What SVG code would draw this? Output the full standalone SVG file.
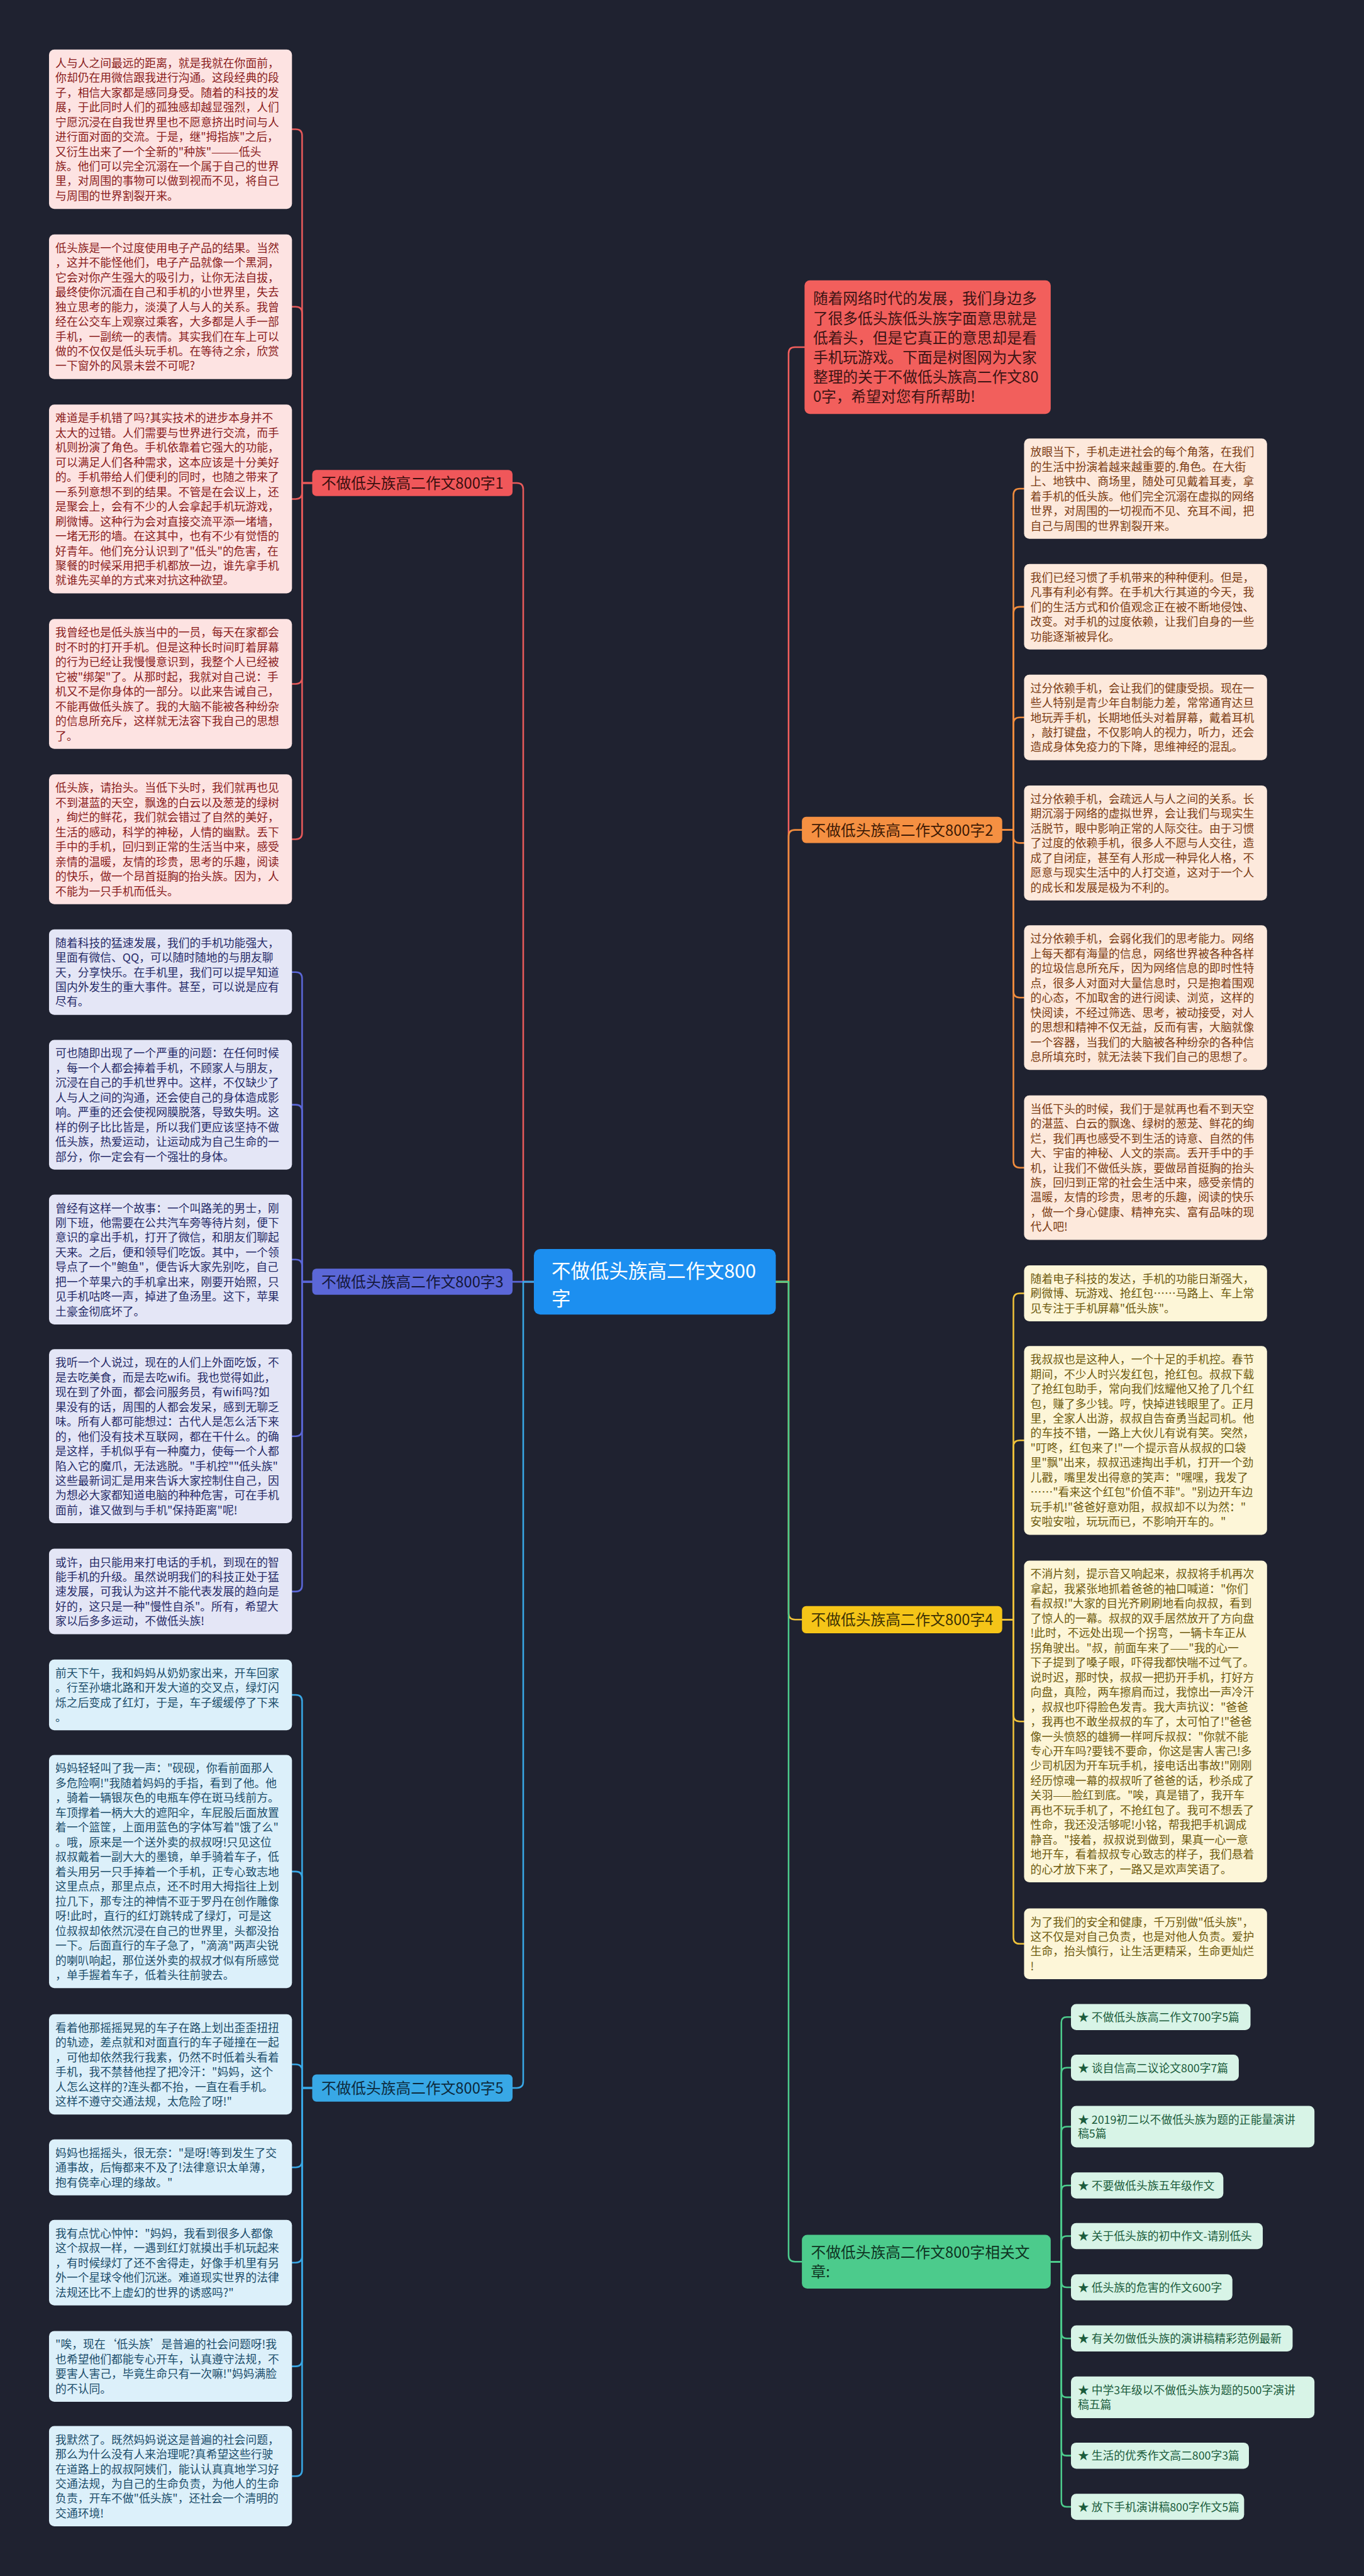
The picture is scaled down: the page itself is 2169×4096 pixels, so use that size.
<svg xmlns="http://www.w3.org/2000/svg" width="2169" height="4096" viewBox="0 0 2169 4096">
<defs>
<style>
text{font-family:"Noto Sans CJK SC","Noto Sans","DejaVu Sans",sans-serif;}
.b{font-size:21px}
.br{font-size:28px}
.c{fill:none;stroke-width:3;stroke-linecap:round;stroke-linejoin:round}
.red rect{fill:#fde3e2}.red text{fill:#8a1c1c}
.pur rect{fill:#e4e6f6}.pur text{fill:#262b68}
.blu rect{fill:#dcf0fa}.blu text{fill:#1b4d6b}
.ora rect{fill:#fde9dc}.ora text{fill:#7b3b12}
.yel rect{fill:#fdf6d8}.yel text{fill:#6e5a0e}
.grn rect{fill:#d8f4e7}.grn text{fill:#1b5c3c}
</style>
</defs>
<rect width="2169" height="4096" fill="#1f2230"/>
<g transform="scale(0.84727)">
<g id="connectors">
<path class="c" stroke="#e85a5a" d="M1002,2405.5 H982 V918.5 Q982,906.5 970,906.5 H962"/>
<path class="c" stroke="#5b67d8" d="M1002,2405.5 H962"/>
<path class="c" stroke="#38a8e6" d="M1002,2405.5 H982 V3906.5 Q982,3918.5 970,3918.5 H962"/>
<path class="c" stroke="#f25f5c" d="M1456,2405.5 H1480 V663.5 Q1480,651.5 1492,651.5 H1510"/>
<path class="c" stroke="#f08c3e" d="M1456,2405.5 H1480 V1569.5 Q1480,1557.5 1492,1557.5 H1505"/>
<path class="c" stroke="#efc23a" d="M1456,2405.5 H1480 V3027.5 Q1480,3039.5 1492,3039.5 H1505"/>
<path class="c" stroke="#4ccb8c" d="M1456,2405.5 H1480 V4232.5 Q1480,4244.5 1492,4244.5 H1505"/>
<g stroke="#e85a5a">
<path class="c" d="M586,906.5 H567 V254.5 Q567,242.5 555,242.5 H548"/>
<path class="c" d="M586,906.5 H567 V587.7 Q567,575.7 555,575.7 H548"/>
<path class="c" d="M586,906.5 H567 V924.5 Q567,936.5 555,936.5 H548"/>
<path class="c" d="M586,906.5 H567 V1271.5 Q567,1283.5 555,1283.5 H548"/>
<path class="c" d="M586,906.5 H567 V1563 Q567,1575 555,1575 H548"/>
</g>
<g stroke="#5b67d8">
<path class="c" d="M586,2405.5 H567 V1836.3 Q567,1824.3 555,1824.3 H548"/>
<path class="c" d="M586,2405.5 H567 V2085.3 Q567,2073.3 555,2073.3 H548"/>
<path class="c" d="M586,2405.5 H567 V2375.8 Q567,2363.8 555,2363.8 H548"/>
<path class="c" d="M586,2405.5 H567 V2683.4 Q567,2695.4 555,2695.4 H548"/>
<path class="c" d="M586,2405.5 H567 V2974.8 Q567,2986.8 555,2986.8 H548"/>
</g>
<g stroke="#38a8e6">
<path class="c" d="M586,3918.5 H567 V3192.9 Q567,3180.9 555,3180.9 H548"/>
<path class="c" d="M586,3918.5 H567 V3524.3 Q567,3512.3 555,3512.3 H548"/>
<path class="c" d="M586,3918.5 H567 V3886.1 Q567,3874.1 555,3874.1 H548"/>
<path class="c" d="M586,3918.5 H567 V4055.5 Q567,4067.5 555,4067.5 H548"/>
<path class="c" d="M586,3918.5 H567 V4234.3 Q567,4246.3 555,4246.3 H548"/>
<path class="c" d="M586,3918.5 H567 V4428.9 Q567,4440.9 555,4440.9 H548"/>
<path class="c" d="M586,3918.5 H567 V4635.1 Q567,4647.1 555,4647.1 H548"/>
</g>
<g stroke="#f08c3e">
<path class="c" d="M1881,1557.5 H1902 V929.1 Q1902,917.1 1914,917.1 H1922"/>
<path class="c" d="M1881,1557.5 H1902 V1150.8 Q1902,1138.8 1914,1138.8 H1922"/>
<path class="c" d="M1881,1557.5 H1902 V1358.3 Q1902,1346.3 1914,1346.3 H1922"/>
<path class="c" d="M1881,1557.5 H1902 V1570 Q1902,1582 1914,1582 H1922"/>
<path class="c" d="M1881,1557.5 H1902 V1860.2 Q1902,1872.2 1914,1872.2 H1922"/>
<path class="c" d="M1881,1557.5 H1902 V2179.4 Q1902,2191.4 1914,2191.4 H1922"/>
</g>
<g stroke="#efc23a">
<path class="c" d="M1881,3039.5 H1902 V2439.2 Q1902,2427.2 1914,2427.2 H1922"/>
<path class="c" d="M1881,3039.5 H1902 V2715.2 Q1902,2703.2 1914,2703.2 H1922"/>
<path class="c" d="M1881,3039.5 H1902 V3218.6 Q1902,3230.6 1914,3230.6 H1922"/>
<path class="c" d="M1881,3039.5 H1902 V3636 Q1902,3648 1914,3648 H1922"/>
</g>
<g stroke="#4ccb8c">
<path class="c" d="M1972,4244.5 H1992 V3795.5 Q1992,3785.5 2002,3785.5 H2010"/>
<path class="c" d="M1972,4244.5 H1992 V3890.5 Q1992,3880.5 2002,3880.5 H2010"/>
<path class="c" d="M1972,4244.5 H1992 V4001 Q1992,3991 2002,3991 H2010"/>
<path class="c" d="M1972,4244.5 H1992 V4111.5 Q1992,4101.5 2002,4101.5 H2010"/>
<path class="c" d="M1972,4244.5 H1992 V4206.5 Q1992,4196.5 2002,4196.5 H2010"/>
<path class="c" d="M1972,4244.5 H1992 V4282.5 Q1992,4292.5 2002,4292.5 H2010"/>
<path class="c" d="M1972,4244.5 H1992 V4378.5 Q1992,4388.5 2002,4388.5 H2010"/>
<path class="c" d="M1972,4244.5 H1992 V4489 Q1992,4499 2002,4499 H2010"/>
<path class="c" d="M1972,4244.5 H1992 V4598.5 Q1992,4608.5 2002,4608.5 H2010"/>
<path class="c" d="M1972,4244.5 H1992 V4694.5 Q1992,4704.5 2002,4704.5 H2010"/>
</g>
</g>

<g id="center"><rect x="1002" y="2344" width="454" height="123" rx="12" fill="#1c8ff0"/>
<text x="1035" y="2398" font-size="36" fill="#ffffff">不做低头族高二作文800<tspan x="1035" dy="52">字</tspan></text></g>

<g id="intro"><rect x="1510" y="526" width="462" height="251" rx="10" fill="#f25f5c"/>
<text x="1526" y="570.6" font-size="28" fill="#3c1414"><tspan x="1526" dy="0">随着网络时代的发展，我们身边多</tspan><tspan x="1526" dy="36.7">了很多低头族低头族字面意思就是</tspan><tspan x="1526" dy="36.7">低着头，但是它真正的意思却是看</tspan><tspan x="1526" dy="36.7">手机玩游戏。下面是树图网为大家</tspan><tspan x="1526" dy="36.7">整理的关于不做低头族高二作文80</tspan><tspan x="1526" dy="36.7">0字，希望对您有所帮助!</tspan></text></g>

<g id="branch1"><rect x="586" y="882" width="376" height="49" rx="8" fill="#f0575a"/><text class="br" x="603" y="917" fill="#3a0f0f">不做低头族高二作文800字1</text></g>
<g id="branch3"><rect x="586" y="2381" width="376" height="49" rx="8" fill="#5b67d8"/><text class="br" x="603" y="2416" fill="#14173a">不做低头族高二作文800字3</text></g>
<g id="branch5"><rect x="586" y="3893" width="376" height="51" rx="8" fill="#38a8e6"/><text class="br" x="603" y="3929" fill="#0d2a3d">不做低头族高二作文800字5</text></g>
<g id="branch2"><rect x="1505" y="1533" width="376" height="49" rx="8" fill="#f59042"/><text class="br" x="1522" y="1568" fill="#3d1a05">不做低头族高二作文800字2</text></g>
<g id="branch4"><rect x="1505" y="3014" width="376" height="51" rx="8" fill="#f5c518"/><text class="br" x="1522" y="3050" fill="#3d3205">不做低头族高二作文800字4</text></g>
<g id="branch6"><rect x="1505" y="4194" width="467" height="101" rx="10" fill="#4ccb8c"/><text class="br" x="1522" y="4237" fill="#0e3322">不做低头族高二作文800字相关文<tspan x="1522" dy="37">章:</tspan></text></g>

<g id="l1a" class="red"><rect x="92" y="93" width="456" height="299" rx="10"/><text class="b" x="104" y="126"><tspan x="104" dy="0">人与人之间最远的距离，就是我就在你面前，</tspan><tspan x="104" dy="27.7">你却仍在用微信跟我进行沟通。这段经典的段</tspan><tspan x="104" dy="27.7">子，相信大家都是感同身受。随着的科技的发</tspan><tspan x="104" dy="27.7">展，于此同时人们的孤独感却越显强烈，人们</tspan><tspan x="104" dy="27.7">宁愿沉浸在自我世界里也不愿意挤出时间与人</tspan><tspan x="104" dy="27.7">进行面对面的交流。于是，继"拇指族"之后，</tspan><tspan x="104" dy="27.7">又衍生出来了一个全新的"种族"———低头</tspan><tspan x="104" dy="27.7">族。他们可以完全沉溺在一个属于自己的世界</tspan><tspan x="104" dy="27.7">里，对周围的事物可以做到视而不见，将自己</tspan><tspan x="104" dy="27.7">与周围的世界割裂开来。</tspan></text></g>

<g id="l1b" class="red"><rect x="92" y="440" width="456" height="271.3" rx="10"/><text class="b" x="104" y="473"><tspan x="104" dy="0">低头族是一个过度使用电子产品的结果。当然</tspan><tspan x="104" dy="27.7">，这并不能怪他们，电子产品就像一个黑洞，</tspan><tspan x="104" dy="27.7">它会对你产生强大的吸引力，让你无法自拔，</tspan><tspan x="104" dy="27.7">最终使你沉湎在自己和手机的小世界里，失去</tspan><tspan x="104" dy="27.7">独立思考的能力，淡漠了人与人的关系。我曾</tspan><tspan x="104" dy="27.7">经在公交车上观察过乘客，大多都是人手一部</tspan><tspan x="104" dy="27.7">手机，一副统一的表情。其实我们在车上可以</tspan><tspan x="104" dy="27.7">做的不仅仅是低头玩手机。在等待之余，欣赏</tspan><tspan x="104" dy="27.7">一下窗外的风景未尝不可呢?</tspan></text></g>

<g id="l1c" class="red"><rect x="92" y="759.3" width="456" height="354.4" rx="10"/><text class="b" x="104" y="792.3"><tspan x="104" dy="0">难道是手机错了吗?其实技术的进步本身并不</tspan><tspan x="104" dy="27.7">太大的过错。人们需要与世界进行交流，而手</tspan><tspan x="104" dy="27.7">机则扮演了角色。手机依靠着它强大的功能，</tspan><tspan x="104" dy="27.7">可以满足人们各种需求，这本应该是十分美好</tspan><tspan x="104" dy="27.7">的。手机带给人们便利的同时，也随之带来了</tspan><tspan x="104" dy="27.7">一系列意想不到的结果。不管是在会议上，还</tspan><tspan x="104" dy="27.7">是聚会上，会有不少的人会拿起手机玩游戏，</tspan><tspan x="104" dy="27.7">刷微博。这种行为会对直接交流平添一堵墙，</tspan><tspan x="104" dy="27.7">一堵无形的墙。在这其中，也有不少有觉悟的</tspan><tspan x="104" dy="27.7">好青年。他们充分认识到了"低头"的危害，在</tspan><tspan x="104" dy="27.7">聚餐的时候采用把手机都放一边，谁先拿手机</tspan><tspan x="104" dy="27.7">就谁先买单的方式来对抗这种欲望。</tspan></text></g>

<g id="l1d" class="red"><rect x="92" y="1161.7" width="456" height="243.6" rx="10"/><text class="b" x="104" y="1194.7"><tspan x="104" dy="0">我曾经也是低头族当中的一员，每天在家都会</tspan><tspan x="104" dy="27.7">时不时的打开手机。但是这种长时间盯着屏幕</tspan><tspan x="104" dy="27.7">的行为已经让我慢慢意识到，我整个人已经被</tspan><tspan x="104" dy="27.7">它被"绑架"了。从那时起，我就对自己说：手</tspan><tspan x="104" dy="27.7">机又不是你身体的一部分。以此来告诫自己，</tspan><tspan x="104" dy="27.7">不能再做低头族了。我的大脑不能被各种纷杂</tspan><tspan x="104" dy="27.7">的信息所充斥，这样就无法容下我自己的思想</tspan><tspan x="104" dy="27.7">了。</tspan></text></g>

<g id="l1e" class="red"><rect x="92" y="1453.3" width="456" height="243.6" rx="10"/><text class="b" x="104" y="1486.3"><tspan x="104" dy="0">低头族，请抬头。当低下头时，我们就再也见</tspan><tspan x="104" dy="27.7">不到湛蓝的天空，飘逸的白云以及葱茏的绿树</tspan><tspan x="104" dy="27.7">，绚烂的鲜花，我们就会错过了自然的美好，</tspan><tspan x="104" dy="27.7">生活的感动，科学的神秘，人情的幽默。丢下</tspan><tspan x="104" dy="27.7">手中的手机，回归到正常的生活当中来，感受</tspan><tspan x="104" dy="27.7">亲情的温暖，友情的珍贵，思考的乐趣，阅读</tspan><tspan x="104" dy="27.7">的快乐，做一个昂首挺胸的抬头族。因为，人</tspan><tspan x="104" dy="27.7">不能为一只手机而低头。</tspan></text></g>

<g id="l3a" class="pur"><rect x="92" y="1744" width="456" height="160.5" rx="10"/><text class="b" x="104" y="1777"><tspan x="104" dy="0">随着科技的猛速发展，我们的手机功能强大，</tspan><tspan x="104" dy="27.7">里面有微信、QQ，可以随时随地的与朋友聊</tspan><tspan x="104" dy="27.7">天，分享快乐。在手机里，我们可以提早知道</tspan><tspan x="104" dy="27.7">国内外发生的重大事件。甚至，可以说是应有</tspan><tspan x="104" dy="27.7">尽有。</tspan></text></g>

<g id="l3b" class="pur"><rect x="92" y="1951.5" width="456" height="243.6" rx="10"/><text class="b" x="104" y="1984.5"><tspan x="104" dy="0">可也随即出现了一个严重的问题：在任何时候</tspan><tspan x="104" dy="27.7">，每一个人都会捧着手机，不顾家人与朋友，</tspan><tspan x="104" dy="27.7">沉浸在自己的手机世界中。这样，不仅缺少了</tspan><tspan x="104" dy="27.7">人与人之间的沟通，还会使自己的身体造成影</tspan><tspan x="104" dy="27.7">响。严重的还会使视网膜脱落，导致失明。这</tspan><tspan x="104" dy="27.7">样的例子比比皆是，所以我们更应该坚持不做</tspan><tspan x="104" dy="27.7">低头族，热爱运动，让运动成为自己生命的一</tspan><tspan x="104" dy="27.7">部分，你一定会有一个强壮的身体。</tspan></text></g>

<g id="l3c" class="pur"><rect x="92" y="2242" width="456" height="243.6" rx="10"/><text class="b" x="104" y="2275"><tspan x="104" dy="0">曾经有这样一个故事：一个叫路羌的男士，刚</tspan><tspan x="104" dy="27.7">刚下班，他需要在公共汽车旁等待片刻，便下</tspan><tspan x="104" dy="27.7">意识的拿出手机，打开了微信，和朋友们聊起</tspan><tspan x="104" dy="27.7">天来。之后，便和领导们吃饭。其中，一个领</tspan><tspan x="104" dy="27.7">导点了一个"鲍鱼"，便告诉大家先别吃，自己</tspan><tspan x="104" dy="27.7">把一个苹果六的手机拿出来，刚要开始照，只</tspan><tspan x="104" dy="27.7">见手机咕咚一声，掉进了鱼汤里。这下，苹果</tspan><tspan x="104" dy="27.7">土豪金彻底坏了。</tspan></text></g>

<g id="l3d" class="pur"><rect x="92" y="2532" width="456" height="326.7" rx="10"/><text class="b" x="104" y="2565"><tspan x="104" dy="0">我听一个人说过，现在的人们上外面吃饭，不</tspan><tspan x="104" dy="27.7">是去吃美食，而是去吃wifi。我也觉得如此，</tspan><tspan x="104" dy="27.7">现在到了外面，都会问服务员，有wifi吗?如</tspan><tspan x="104" dy="27.7">果没有的话，周围的人都会发呆，感到无聊乏</tspan><tspan x="104" dy="27.7">味。所有人都可能想过：古代人是怎么活下来</tspan><tspan x="104" dy="27.7">的，他们没有技术互联网，都在干什么。的确</tspan><tspan x="104" dy="27.7">是这样，手机似乎有一种魔力，使每一个人都</tspan><tspan x="104" dy="27.7">陷入它的魔爪，无法逃脱。"手机控""低头族"</tspan><tspan x="104" dy="27.7">这些最新词汇是用来告诉大家控制住自己，因</tspan><tspan x="104" dy="27.7">为想必大家都知道电脑的种种危害，可在手机</tspan><tspan x="104" dy="27.7">面前，谁又做到与手机"保持距离"呢!</tspan></text></g>

<g id="l3e" class="pur"><rect x="92" y="2906.5" width="456" height="160.5" rx="10"/><text class="b" x="104" y="2939.5"><tspan x="104" dy="0">或许，由只能用来打电话的手机，到现在的智</tspan><tspan x="104" dy="27.7">能手机的升级。虽然说明我们的科技正处于猛</tspan><tspan x="104" dy="27.7">速发展，可我认为这并不能代表发展的趋向是</tspan><tspan x="104" dy="27.7">好的，这只是一种"慢性自杀"。所有，希望大</tspan><tspan x="104" dy="27.7">家以后多多运动，不做低头族!</tspan></text></g>

<g id="l5a" class="blu"><rect x="92" y="3114.5" width="456" height="132.8" rx="10"/><text class="b" x="104" y="3147.5"><tspan x="104" dy="0">前天下午，我和妈妈从奶奶家出来，开车回家</tspan><tspan x="104" dy="27.7">。行至孙塘北路和开发大道的交叉点，绿灯闪</tspan><tspan x="104" dy="27.7">烁之后变成了红灯，于是，车子缓缓停了下来</tspan><tspan x="104" dy="27.7">。</tspan></text></g>

<g id="l5b" class="blu"><rect x="92" y="3293.5" width="456" height="437.5" rx="10"/><text class="b" x="104" y="3326.5"><tspan x="104" dy="0">妈妈轻轻叫了我一声："砚砚，你看前面那人</tspan><tspan x="104" dy="27.7">多危险啊!"我随着妈妈的手指，看到了他。他</tspan><tspan x="104" dy="27.7">，骑着一辆银灰色的电瓶车停在斑马线前方。</tspan><tspan x="104" dy="27.7">车顶撑着一柄大大的遮阳伞，车屁股后面放置</tspan><tspan x="104" dy="27.7">着一个篮筐，上面用蓝色的字体写着"饿了么"</tspan><tspan x="104" dy="27.7">。哦，原来是一个送外卖的叔叔呀!只见这位</tspan><tspan x="104" dy="27.7">叔叔戴着一副大大的墨镜，单手骑着车子，低</tspan><tspan x="104" dy="27.7">着头用另一只手捧着一个手机，正专心致志地</tspan><tspan x="104" dy="27.7">这里点点，那里点点，还不时用大拇指往上划</tspan><tspan x="104" dy="27.7">拉几下，那专注的神情不亚于罗丹在创作雕像</tspan><tspan x="104" dy="27.7">呀!此时，直行的红灯跳转成了绿灯，可是这</tspan><tspan x="104" dy="27.7">位叔叔却依然沉浸在自己的世界里，头都没抬</tspan><tspan x="104" dy="27.7">一下。后面直行的车子急了，"滴滴"两声尖锐</tspan><tspan x="104" dy="27.7">的喇叭响起，那位送外卖的叔叔才似有所感觉</tspan><tspan x="104" dy="27.7">，单手握着车子，低着头往前驶去。</tspan></text></g>

<g id="l5c" class="blu"><rect x="92" y="3780" width="456" height="188.2" rx="10"/><text class="b" x="104" y="3813"><tspan x="104" dy="0">看着他那摇摇晃晃的车子在路上划出歪歪扭扭</tspan><tspan x="104" dy="27.7">的轨迹，差点就和对面直行的车子碰撞在一起</tspan><tspan x="104" dy="27.7">，可他却依然我行我素，仍然不时低着头看着</tspan><tspan x="104" dy="27.7">手机，我不禁替他捏了把冷汗："妈妈，这个</tspan><tspan x="104" dy="27.7">人怎么这样的?连头都不抬，一直在看手机。</tspan><tspan x="104" dy="27.7">这样不遵守交通法规，太危险了呀!"</tspan></text></g>

<g id="l5d" class="blu"><rect x="92" y="4015" width="456" height="105.1" rx="10"/><text class="b" x="104" y="4048"><tspan x="104" dy="0">妈妈也摇摇头，很无奈："是呀!等到发生了交</tspan><tspan x="104" dy="27.7">通事故，后悔都来不及了!法律意识太单薄，</tspan><tspan x="104" dy="27.7">抱有侥幸心理的缘故。"</tspan></text></g>

<g id="l5e" class="blu"><rect x="92" y="4166" width="456" height="160.5" rx="10"/><text class="b" x="104" y="4199"><tspan x="104" dy="0">我有点忧心忡忡："妈妈，我看到很多人都像</tspan><tspan x="104" dy="27.7">这个叔叔一样，一遇到红灯就摸出手机玩起来</tspan><tspan x="104" dy="27.7">，有时候绿灯了还不舍得走，好像手机里有另</tspan><tspan x="104" dy="27.7">外一个星球令他们沉迷。难道现实世界的法律</tspan><tspan x="104" dy="27.7">法规还比不上虚幻的世界的诱惑吗?"</tspan></text></g>

<g id="l5f" class="blu"><rect x="92" y="4374.5" width="456" height="132.8" rx="10"/><text class="b" x="104" y="4407.5"><tspan x="104" dy="0">"唉，现在‘低头族’是普遍的社会问题呀!我</tspan><tspan x="104" dy="27.7">也希望他们都能专心开车，认真遵守法规，不</tspan><tspan x="104" dy="27.7">要害人害己，毕竟生命只有一次嘛!"妈妈满脸</tspan><tspan x="104" dy="27.7">的不认同。</tspan></text></g>

<g id="l5g" class="blu"><rect x="92" y="4553" width="456" height="188.2" rx="10"/><text class="b" x="104" y="4586"><tspan x="104" dy="0">我默然了。既然妈妈说这是普遍的社会问题，</tspan><tspan x="104" dy="27.7">那么为什么没有人来治理呢?真希望这些行驶</tspan><tspan x="104" dy="27.7">在道路上的叔叔阿姨们，能认认真真地学习好</tspan><tspan x="104" dy="27.7">交通法规，为自己的生命负责，为他人的生命</tspan><tspan x="104" dy="27.7">负责，开车不做"低头族"，还社会一个清明的</tspan><tspan x="104" dy="27.7">交通环境!</tspan></text></g>

<g id="o1" class="ora"><rect x="1922" y="823" width="456" height="188.2" rx="10"/><text class="b" x="1934" y="856"><tspan x="1934" dy="0">放眼当下，手机走进社会的每个角落，在我们</tspan><tspan x="1934" dy="27.7">的生活中扮演着越来越重要的.角色。在大街</tspan><tspan x="1934" dy="27.7">上、地铁中、商场里，随处可见戴着耳麦，拿</tspan><tspan x="1934" dy="27.7">着手机的低头族。他们完全沉溺在虚拟的网络</tspan><tspan x="1934" dy="27.7">世界，对周围的一切视而不见、充耳不闻，把</tspan><tspan x="1934" dy="27.7">自己与周围的世界割裂开来。</tspan></text></g>

<g id="o2" class="ora"><rect x="1922" y="1058.5" width="456" height="160.5" rx="10"/><text class="b" x="1934" y="1091.5"><tspan x="1934" dy="0">我们已经习惯了手机带来的种种便利。但是，</tspan><tspan x="1934" dy="27.7">凡事有利必有弊。在手机大行其道的今天，我</tspan><tspan x="1934" dy="27.7">们的生活方式和价值观念正在被不断地侵蚀、</tspan><tspan x="1934" dy="27.7">改变。对手机的过度依赖，让我们自身的一些</tspan><tspan x="1934" dy="27.7">功能逐渐被异化。</tspan></text></g>

<g id="o3" class="ora"><rect x="1922" y="1266" width="456" height="160.5" rx="10"/><text class="b" x="1934" y="1299"><tspan x="1934" dy="0">过分依赖手机，会让我们的健康受损。现在一</tspan><tspan x="1934" dy="27.7">些人特别是青少年自制能力差，常常通宵达旦</tspan><tspan x="1934" dy="27.7">地玩弄手机，长期地低头对着屏幕，戴着耳机</tspan><tspan x="1934" dy="27.7">，敲打键盘，不仅影响人的视力，听力，还会</tspan><tspan x="1934" dy="27.7">造成身体免疫力的下降，思维神经的混乱。</tspan></text></g>

<g id="o4" class="ora"><rect x="1922" y="1474" width="456" height="215.9" rx="10"/><text class="b" x="1934" y="1507"><tspan x="1934" dy="0">过分依赖手机，会疏远人与人之间的关系。长</tspan><tspan x="1934" dy="27.7">期沉溺于网络的虚拟世界，会让我们与现实生</tspan><tspan x="1934" dy="27.7">活脱节，眼中影响正常的人际交往。由于习惯</tspan><tspan x="1934" dy="27.7">了过度的依赖手机，很多人不愿与人交往，造</tspan><tspan x="1934" dy="27.7">成了自闭症，甚至有人形成一种异化人格，不</tspan><tspan x="1934" dy="27.7">愿意与现实生活中的人打交道，这对于一个人</tspan><tspan x="1934" dy="27.7">的成长和发展是极为不利的。</tspan></text></g>

<g id="o5" class="ora"><rect x="1922" y="1736.5" width="456" height="271.3" rx="10"/><text class="b" x="1934" y="1769.5"><tspan x="1934" dy="0">过分依赖手机，会弱化我们的思考能力。网络</tspan><tspan x="1934" dy="27.7">上每天都有海量的信息，网络世界被各种各样</tspan><tspan x="1934" dy="27.7">的垃圾信息所充斥，因为网络信息的即时性特</tspan><tspan x="1934" dy="27.7">点，很多人对面对大量信息时，只是抱着围观</tspan><tspan x="1934" dy="27.7">的心态，不加取舍的进行阅读、浏览，这样的</tspan><tspan x="1934" dy="27.7">快阅读，不经过筛选、思考，被动接受，对人</tspan><tspan x="1934" dy="27.7">的思想和精神不仅无益，反而有害，大脑就像</tspan><tspan x="1934" dy="27.7">一个容器，当我们的大脑被各种纷杂的各种信</tspan><tspan x="1934" dy="27.7">息所填充时，就无法装下我们自己的思想了。</tspan></text></g>

<g id="o6" class="ora"><rect x="1922" y="2055.7" width="456" height="271.3" rx="10"/><text class="b" x="1934" y="2088.7"><tspan x="1934" dy="0">当低下头的时候，我们于是就再也看不到天空</tspan><tspan x="1934" dy="27.7">的湛蓝、白云的飘逸、绿树的葱茏、鲜花的绚</tspan><tspan x="1934" dy="27.7">烂，我们再也感受不到生活的诗意、自然的伟</tspan><tspan x="1934" dy="27.7">大、宇宙的神秘、人文的崇高。丢开手中的手</tspan><tspan x="1934" dy="27.7">机，让我们不做低头族，要做昂首挺胸的抬头</tspan><tspan x="1934" dy="27.7">族，回归到正常的社会生活中来，感受亲情的</tspan><tspan x="1934" dy="27.7">温暖，友情的珍贵，思考的乐趣，阅读的快乐</tspan><tspan x="1934" dy="27.7">，做一个身心健康、精神充实、富有品味的现</tspan><tspan x="1934" dy="27.7">代人吧!</tspan></text></g>

<g id="y1" class="yel"><rect x="1922" y="2374.7" width="456" height="105.1" rx="10"/><text class="b" x="1934" y="2407.7"><tspan x="1934" dy="0">随着电子科技的发达，手机的功能日渐强大，</tspan><tspan x="1934" dy="27.7">刷微博、玩游戏、抢红包……马路上、车上常</tspan><tspan x="1934" dy="27.7">见专注于手机屏幕"低头族"。</tspan></text></g>

<g id="y2" class="yel"><rect x="1922" y="2526" width="456" height="354.4" rx="10"/><text class="b" x="1934" y="2559"><tspan x="1934" dy="0">我叔叔也是这种人，一个十足的手机控。春节</tspan><tspan x="1934" dy="27.7">期间，不少人时兴发红包，抢红包。叔叔下载</tspan><tspan x="1934" dy="27.7">了抢红包助手，常向我们炫耀他又抢了几个红</tspan><tspan x="1934" dy="27.7">包，赚了多少钱。哼，快掉进钱眼里了。正月</tspan><tspan x="1934" dy="27.7">里，全家人出游，叔叔自告奋勇当起司机。他</tspan><tspan x="1934" dy="27.7">的车技不错，一路上大伙儿有说有笑。突然，</tspan><tspan x="1934" dy="27.7">"叮咚，红包来了!"一个提示音从叔叔的口袋</tspan><tspan x="1934" dy="27.7">里"飘"出来，叔叔迅速掏出手机，打开一个劲</tspan><tspan x="1934" dy="27.7">儿戳，嘴里发出得意的笑声："嘿嘿，我发了</tspan><tspan x="1934" dy="27.7">……"看来这个红包"价值不菲"。"别边开车边</tspan><tspan x="1934" dy="27.7">玩手机!"爸爸好意劝阻，叔叔却不以为然："</tspan><tspan x="1934" dy="27.7">安啦安啦，玩玩而已，不影响开车的。"</tspan></text></g>

<g id="y3" class="yel"><rect x="1922" y="2928.7" width="456" height="603.7" rx="10"/><text class="b" x="1934" y="2961.7"><tspan x="1934" dy="0">不消片刻，提示音又响起来，叔叔将手机再次</tspan><tspan x="1934" dy="27.7">拿起，我紧张地抓着爸爸的袖口喊道："你们</tspan><tspan x="1934" dy="27.7">看叔叔!"大家的目光齐刷刷地看向叔叔，看到</tspan><tspan x="1934" dy="27.7">了惊人的一幕。叔叔的双手居然放开了方向盘</tspan><tspan x="1934" dy="27.7">!此时，不远处出现一个拐弯，一辆卡车正从</tspan><tspan x="1934" dy="27.7">拐角驶出。"叔，前面车来了——"我的心一</tspan><tspan x="1934" dy="27.7">下子提到了嗓子眼，吓得我都快喘不过气了。</tspan><tspan x="1934" dy="27.7">说时迟，那时快，叔叔一把扔开手机，打好方</tspan><tspan x="1934" dy="27.7">向盘，真险，两车擦肩而过，我惊出一声冷汗</tspan><tspan x="1934" dy="27.7">，叔叔也吓得脸色发青。我大声抗议："爸爸</tspan><tspan x="1934" dy="27.7">，我再也不敢坐叔叔的车了，太可怕了!"爸爸</tspan><tspan x="1934" dy="27.7">像一头愤怒的雄狮一样呵斥叔叔："你就不能</tspan><tspan x="1934" dy="27.7">专心开车吗?要钱不要命，你这是害人害己!多</tspan><tspan x="1934" dy="27.7">少司机因为开车玩手机，接电话出事故!"刚刚</tspan><tspan x="1934" dy="27.7">经历惊魂一幕的叔叔听了爸爸的话，秒杀成了</tspan><tspan x="1934" dy="27.7">关羽——脸红到底。"唉，真是错了，我开车</tspan><tspan x="1934" dy="27.7">再也不玩手机了，不抢红包了。我可不想丢了</tspan><tspan x="1934" dy="27.7">性命，我还没活够呢!小铭，帮我把手机调成</tspan><tspan x="1934" dy="27.7">静音。"接着，叔叔说到做到，果真一心一意</tspan><tspan x="1934" dy="27.7">地开车，看着叔叔专心致志的样子，我们悬着</tspan><tspan x="1934" dy="27.7">的心才放下来了，一路又是欢声笑语了。</tspan></text></g>

<g id="y4" class="yel"><rect x="1922" y="3581.6" width="456" height="132.8" rx="10"/><text class="b" x="1934" y="3614.6"><tspan x="1934" dy="0">为了我们的安全和健康，千万别做"低头族"，</tspan><tspan x="1934" dy="27.7">这不仅是对自己负责，也是对他人负责。爱护</tspan><tspan x="1934" dy="27.7">生命，抬头慎行，让生活更精采，生命更灿烂</tspan><tspan x="1934" dy="27.7">!</tspan></text></g>

<g id="g1" class="grn"><rect x="2010" y="3761" width="337" height="49" rx="10"/><text class="b" x="2023" y="3793.5">★ 不做低头族高二作文700字5篇</text></g>
<g id="g2" class="grn"><rect x="2010" y="3856" width="315" height="49" rx="10"/><text class="b" x="2023" y="3888.5">★ 谈自信高二议论文800字7篇</text></g>
<g id="g3" class="grn"><rect x="2010" y="3952" width="457" height="78" rx="10"/><text class="b" x="2023" y="3985.5">★ 2019初二以不做低头族为题的正能量演讲<tspan x="2023" dy="26.7">稿5篇</tspan></text></g>
<g id="g4" class="grn"><rect x="2010" y="4077" width="286" height="49" rx="10"/><text class="b" x="2023" y="4109.5">★ 不要做低头族五年级作文</text></g>
<g id="g5" class="grn"><rect x="2010" y="4172" width="360" height="49" rx="10"/><text class="b" x="2023" y="4204.5">★ 关于低头族的初中作文-请别低头</text></g>
<g id="g6" class="grn"><rect x="2010" y="4268" width="303" height="49" rx="10"/><text class="b" x="2023" y="4300.5">★ 低头族的危害的作文600字</text></g>
<g id="g7" class="grn"><rect x="2010" y="4364" width="416" height="49" rx="10"/><text class="b" x="2023" y="4396.5">★ 有关勿做低头族的演讲稿精彩范例最新</text></g>
<g id="g8" class="grn"><rect x="2010" y="4460" width="457" height="78" rx="10"/><text class="b" x="2023" y="4493.5">★ 中学3年级以不做低头族为题的500字演讲<tspan x="2023" dy="26.7">稿五篇</tspan></text></g>
<g id="g9" class="grn"><rect x="2010" y="4584" width="334" height="49" rx="10"/><text class="b" x="2023" y="4616.5">★ 生活的优秀作文高二800字3篇</text></g>
<g id="g10" class="grn"><rect x="2010" y="4680" width="325" height="49" rx="10"/><text class="b" x="2023" y="4712.5">★ 放下手机演讲稿800字作文5篇</text></g>
</g>
</svg>
